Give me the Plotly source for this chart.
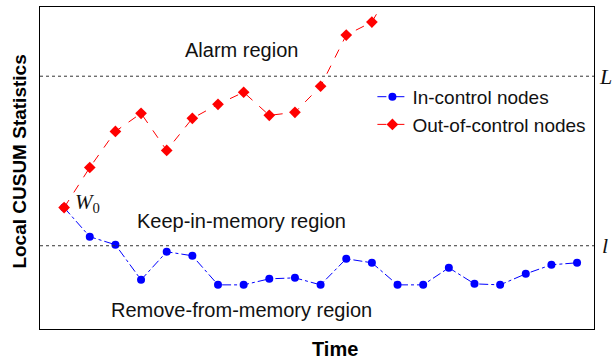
import plotly.graph_objects as go

time_idx = list(range(21))
in_control = [12.1, 9.2, 8.4, 4.9, 7.7, 7.3, 4.4, 4.4, 5.0, 5.1, 4.4,
              7.0, 6.6, 4.4, 4.4, 6.1, 4.5, 4.4, 5.5, 6.4, 6.6]
out_time = list(range(14))
out_control = [12.1, 16.1, 19.7, 21.5, 17.8, 21.0, 22.4, 23.6, 21.3, 21.6,
               24.2, 29.3, 30.6, 35.0]
L_level = 25.2
l_level = 8.3

fig = go.Figure()
fig.add_trace(go.Scatter(
    x=time_idx, y=in_control, mode="lines+markers", name="In-control nodes",
    line=dict(color="#0000ff", width=1, dash="dashdot"),
    marker=dict(symbol="circle", size=8, color="#0000ff"),
    cliponaxis=True))
fig.add_trace(go.Scatter(
    x=out_time, y=out_control, mode="lines+markers", name="Out-of-control nodes",
    line=dict(color="#ff0000", width=1, dash="dash"),
    marker=dict(symbol="diamond", size=9, color="#ff0000"),
    cliponaxis=True))

for lv in (L_level, l_level):
    fig.add_shape(type="line", xref="paper", x0=0, x1=1, yref="y", y0=lv, y1=lv,
                  line=dict(color="#333333", width=1, dash="dot"))

sans = "Liberation Sans, Arial, sans-serif"
txt = dict(family=sans, size=20, color="#111111")
serif = dict(family="Liberation Serif, Times New Roman, serif", size=22, color="#111111")
ann = [
    dict(x=6.91, y=27.8, text="Alarm region", showarrow=False, font=txt),
    dict(x=6.91, y=10.8, text="Keep-in-memory region", showarrow=False, font=txt),
    dict(x=6.91, y=1.9, text="Remove-from-memory region", showarrow=False, font=txt),
    dict(x=0.36, y=12.6, text="<i>W</i><sub>0</sub>", showarrow=False,
         font=dict(family="Liberation Serif, Times New Roman, serif", size=21, color="#111111"),
         xanchor="left"),
    dict(xref="paper", x=1.02, xanchor="center", y=L_level, text="<i>L</i>",
         showarrow=False, font=serif),
    dict(xref="paper", x=1.02, xanchor="center", y=l_level, text="<i>l</i>",
         showarrow=False, font=serif),
    dict(xref="paper", yref="paper", x=-0.036, xanchor="center", y=0.52, yanchor="middle",
         text="<b>Local CUSUM Statistics</b>", textangle=-90, showarrow=False,
         font=dict(family=sans, size=19, color="#000000")),
    dict(xref="paper", yref="paper", x=0.532, xanchor="center", y=-0.063, yanchor="middle",
         text="<b>Time</b>", showarrow=False,
         font=dict(family=sans, size=20, color="#000000")),
]
fig.update_layout(
    width=616, height=360,
    margin=dict(l=40, r=22, t=7, b=31),
    paper_bgcolor="white", plot_bgcolor="white",
    annotations=ann,
    showlegend=True,
    legend=dict(x=0.6, y=0.78, xanchor="left", yanchor="top",
                bgcolor="rgba(0,0,0,0)", tracegroupgap=0, itemwidth=30,
                font=dict(family=sans, size=19, color="#111111")),
    xaxis=dict(range=[-0.94, 20.66], showticklabels=False, ticks="", showgrid=False,
               zeroline=False, showline=True, linecolor="#000000", linewidth=1, mirror=True),
    yaxis=dict(range=[0, 32.1], showticklabels=False, ticks="", showgrid=False,
               zeroline=False, showline=True, linecolor="#000000", linewidth=1, mirror=True),
)
fig.write_html("out.html")
